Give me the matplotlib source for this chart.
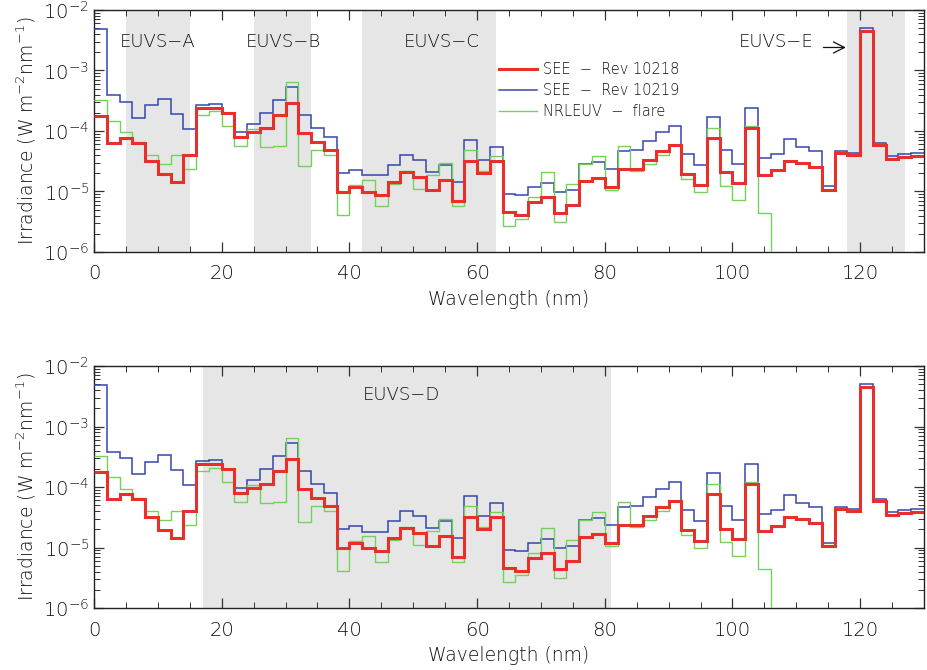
import numpy as np
import matplotlib
matplotlib.use("Agg")
import matplotlib.pyplot as plt
from matplotlib.ticker import MultipleLocator, LogLocator

plt.rcParams['font.family'] = ['DejaVu Sans']
plt.rcParams['font.weight'] = 'light'
plt.rcParams['axes.labelweight'] = 'light'
plt.rcParams['mathtext.fontset'] = 'custom'
plt.rcParams['mathtext.rm'] = 'DejaVu Sans:weight=light'
plt.rcParams['mathtext.it'] = 'DejaVu Sans:weight=light'
plt.rcParams['mathtext.default'] = 'rm'

# 2 nm wavelength bins, 0-130 nm
edges = np.arange(0, 132, 2)

# SEE Rev 10218 (red)
see_10218 = [1.78e-4, 6.45e-5, 7.6e-5, 6.3e-5, 3.14e-5, 1.96e-5, 1.43e-5, 4.05e-5,
             2.38e-4, 2.38e-4, 1.97e-4, 8.1e-5, 9.6e-5, 1.14e-4, 1.85e-4, 2.95e-4,
             9.2e-5, 6.55e-5, 4.9e-5, 9.7e-6, 1.18e-5, 9.8e-6, 8.6e-6, 1.41e-5,
             2.09e-5, 1.71e-5, 1.07e-5, 1.56e-5, 7.0e-6, 3.22e-5, 2.01e-5, 3.25e-5,
             4.57e-6, 4.13e-6, 6.7e-6, 7.97e-6, 4.4e-6, 6.0e-6, 1.47e-5, 1.66e-5,
             1.2e-5, 2.38e-5, 2.38e-5, 3.34e-5, 4.6e-5, 5.77e-5, 1.96e-5, 1.29e-5,
             7.6e-5, 2.06e-5, 1.38e-5, 1.14e-4, 1.89e-5, 2.23e-5, 3.14e-5, 2.94e-5,
             2.5e-5, 1.07e-5, 4.3e-5, 3.95e-5, 4.56e-3, 5.77e-5, 3.43e-5, 3.7e-5,
             3.8e-5]

# SEE Rev 10219 (blue)
see_10219 = [4.85e-3, 3.86e-4, 3.07e-4, 1.63e-4, 2.64e-4, 3.35e-4, 1.9e-4, 1.09e-4,
             2.67e-4, 2.77e-4, 2.02e-4, 9.8e-5, 1.3e-4, 1.97e-4, 3.27e-4, 5.43e-4,
             1.85e-4, 1.13e-4, 8.1e-5, 1.99e-5, 2.28e-5, 1.84e-5, 1.84e-5, 2.7e-5,
             4.05e-5, 3.34e-5, 2.09e-5, 2.7e-5, 1.41e-5, 7.06e-5, 3.34e-5, 5.48e-5,
             9.06e-6, 8.7e-6, 1.18e-5, 1.38e-5, 9.66e-6, 1.07e-5, 2.87e-5, 3.1e-5,
             2.34e-5, 4.71e-5, 4.9e-5, 6.9e-5, 9.45e-5, 1.19e-4, 4.2e-5, 2.77e-5,
             1.73e-4, 4.9e-5, 2.87e-5, 2.38e-4, 3.56e-5, 4.2e-5, 7.3e-5, 5.35e-5,
             4.75e-5, 1.21e-5, 4.75e-5, 4.3e-5, 5.1e-3, 6.3e-5, 3.9e-5, 4.2e-5,
             4.3e-5]

# NRLEUV flare (green), nothing above 106 nm
nrleuv = [3.27e-4, 1.47e-4, 9.45e-5, 6.5e-5, 3.95e-5, 2.84e-5, 3.95e-5, 2.38e-5,
          1.85e-4, 2.1e-4, 1.22e-4, 5.7e-5, 1.07e-4, 5.35e-5, 5.7e-5, 6.56e-4,
          2.66e-5, 4.9e-5, 4.0e-5, 4.1e-6, 1.29e-5, 1.56e-5, 5.8e-6, 1.32e-5,
          2.2e-5, 1.11e-5, 1.89e-5, 2.94e-5, 5.7e-6, 4.9e-5, 2.2e-5, 3.9e-5,
          2.72e-6, 3.5e-6, 8.1e-6, 2.09e-5, 3.1e-6, 1.34e-5, 2.87e-5, 3.8e-5,
          1.04e-5, 5.7e-5, 2.15e-5, 2.84e-5, 4.05e-5, 5.9e-5, 1.6e-5, 9.7e-6,
          1.11e-4, 1.25e-5, 7.3e-6, 1.19e-4, 4.4e-6] + [1e-9] * 12

# channel ranges (nm)
bands_top = {"EUVS\u2212A": (5, 15), "EUVS\u2212B": (25, 34), "EUVS\u2212C": (42, 63),
             "EUVS\u2212E": (118, 127)}
bands_bottom = {"EUVS\u2212D": (17, 81)}

fig = plt.figure(figsize=(9.27, 6.70), dpi=100)
ax1 = fig.add_axes([0.1014, 0.6239, 0.8954, 0.3612])
ax2 = fig.add_axes([0.1014, 0.0925, 0.8954, 0.3612])

tc = '#111111'
for ax in (ax1, ax2):
    ax.set_yscale('log')
    ax.set_xlim(0, 130)
    ax.set_ylim(1e-6, 1e-2)
    ax.stairs(see_10219, edges, baseline=None, color='#3446ae', lw=1.1, label='SEE  \u2212  Rev 10219', zorder=3)
    ax.stairs(nrleuv, edges, baseline=None, color='#72d25a', lw=1.0, label='NRLEUV  \u2212  flare', zorder=3)
    ax.stairs(see_10218, edges, baseline=None, color='#e8302a', lw=2.2, label='SEE  \u2212  Rev 10218', zorder=4)
    ax.xaxis.set_major_locator(MultipleLocator(20))
    ax.xaxis.set_minor_locator(MultipleLocator(5))
    ax.yaxis.set_major_locator(LogLocator(base=10, numticks=10))
    ax.yaxis.set_minor_locator(LogLocator(base=10, subs=np.arange(2, 10), numticks=20))
    ax.tick_params(which='both', direction='in', top=True, right=True, colors='#333333',
                   labelcolor=tc, labelsize=14)
    ax.tick_params(which='major', length=7, width=0.9)
    ax.tick_params(which='minor', length=4, width=0.7)
    ax.tick_params(axis='x', pad=9)
    ax.set_xlabel('Wavelength (nm)', fontsize=13.5, color=tc, labelpad=5)
    ax.set_ylabel('Irradiance (W m$^{-2}$nm$^{-1}$)', fontsize=13.5, color=tc, labelpad=4)
    for s in ax.spines.values():
        s.set_linewidth(1.0)
        s.set_color('#222222')

for name, (a, b) in bands_top.items():
    ax1.axvspan(a, b, color='#e6e6e6', lw=0, zorder=0)
for name, (a, b) in bands_bottom.items():
    ax2.axvspan(a, b, color='#e6e6e6', lw=0, zorder=0)

kw = dict(fontsize=13, color=tc, ha='center', va='center')
ax1.text(10.0, 2.95e-3, 'EUVS\u2212A', **kw)
ax1.text(29.6, 2.95e-3, 'EUVS\u2212B', **kw)
ax1.text(54.5, 2.95e-3, 'EUVS\u2212C', **kw)
ax1.text(106.9, 2.95e-3, 'EUVS\u2212E', **kw)
ax1.annotate('', xy=(118.2, 2.4e-3), xytext=(113.8, 2.4e-3),
             arrowprops=dict(arrowstyle='->', color=tc, lw=0.9, mutation_scale=20))
ax2.text(48.1, 3.3e-3, 'EUVS\u2212D', **kw)

h, l = ax1.get_legend_handles_labels()
order = [2, 0, 1]
leg = ax1.legend([h[i] for i in order], [l[i] for i in order], loc='upper left',
                 bbox_to_anchor=(0.488, 0.785), frameon=False, fontsize=10.5, handlelength=2.6,
                 handletextpad=0.4, labelspacing=0.42, borderpad=0, borderaxespad=0)
for t in leg.get_texts():
    t.set_color(tc)

fig.savefig('out.png', dpi=100)
